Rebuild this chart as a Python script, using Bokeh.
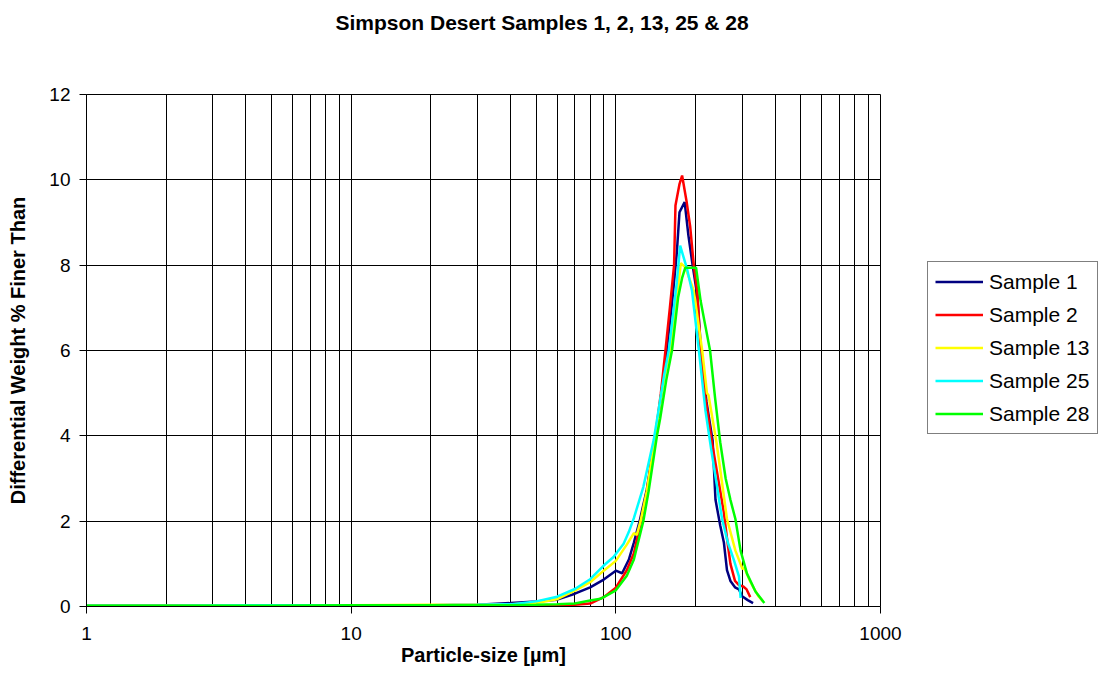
from bokeh.plotting import figure
from bokeh.layouts import row
from bokeh.models import (FixedTicker, PrintfTickFormatter, Legend, LegendItem, Range1d, Title)
from bokeh.embed import file_html
from bokeh.resources import INLINE

# ---- data ----
series_names = ["Sample 1", "Sample 2", "Sample 13", "Sample 25", "Sample 28"]
series_colors = ["#000080", "#FF0000", "#FFFF00", "#00FFFF", "#00FF00"]

s1_size = [1, 2, 5, 10, 20, 30, 40, 50, 60, 70, 80, 90, 100, 105.6, 112, 117, 123, 131, 141, 148,
           155, 163, 170, 174, 182, 188, 195, 203, 210, 220, 232, 238, 248, 256, 263, 271, 282,
           292, 300, 315, 330]
s1_val = [0.02, 0.02, 0.03, 0.03, 0.03, 0.04, 0.08, 0.12, 0.16, 0.30, 0.45, 0.63, 0.84, 0.78, 1.1,
          1.5, 2.0, 2.75, 4.0, 4.9, 5.9, 7.1, 8.3, 9.24, 9.48, 8.7, 8.0, 7.3, 6.0, 4.8, 3.9, 2.5,
          1.9, 1.5, 0.85, 0.6, 0.45, 0.4, 0.24, 0.15, 0.08]

s2_size = [1, 2, 5, 10, 20, 30, 40, 50, 60, 70, 80, 90, 100, 110, 117, 124, 131, 141, 148, 154,
           160, 166, 168, 174, 178, 185, 191, 197, 203, 209, 218, 230, 245, 256, 263, 271, 282,
           292, 303, 312, 322]
s2_val = [0.01, 0.02, 0.02, 0.02, 0.02, 0.02, 0.02, 0.03, 0.03, 0.04, 0.07, 0.22, 0.44, 0.85,
          1.25, 1.95, 2.7, 4.0, 5.0, 6.0, 7.0, 8.0, 9.4, 9.9, 10.1, 9.5, 8.9, 8.0, 7.4, 6.0, 4.9,
          3.9, 2.9, 2.2, 1.6, 1.0, 0.6, 0.5, 0.47, 0.4, 0.22]

s13_size = [1, 2, 5, 10, 20, 30, 40, 50, 60, 70, 80, 90, 100, 110, 117, 120, 124, 131, 141, 148,
            155, 161, 170, 176, 183, 197, 212, 221, 224, 240, 252, 263, 283, 301, 306, 320, 332,
            345, 360]
s13_val = [0.02, 0.02, 0.03, 0.03, 0.04, 0.04, 0.05, 0.08, 0.17, 0.37, 0.57, 0.84, 1.07, 1.45,
           1.72, 1.68, 2.0, 2.7, 4.0, 4.9, 5.6, 6.0, 7.2, 8.05, 7.95, 7.4, 6.0, 5.0, 4.95, 3.85,
           2.9, 2.05, 1.31, 0.88, 0.9, 0.62, 0.43, 0.25, 0.12]

s25_size = [1, 2, 5, 10, 20, 30, 40, 50, 60, 70, 80, 90, 98, 107, 112, 117, 127, 139, 145, 152,
            158.5, 165, 170, 175, 180, 186, 194, 206, 218, 229, 240, 252, 265, 279, 292, 296]
s25_val = [0.02, 0.02, 0.03, 0.03, 0.03, 0.04, 0.05, 0.12, 0.23, 0.41, 0.64, 0.96, 1.16, 1.47,
           1.75, 2.07, 2.8, 3.9, 4.6, 5.4, 6.0, 6.9, 7.6, 8.46, 8.2, 7.9, 7.4, 6.0, 4.6, 3.7, 2.9,
           2.05, 1.5, 1.1, 0.7, 0.2]

s28_size = [1, 2, 5, 10, 20, 30, 40, 50, 60, 70, 80, 87.5, 90, 100, 110, 117, 127, 133, 143, 147,
            155, 163, 172, 178, 183, 192, 201, 209, 216, 227, 237, 248, 260, 271, 283, 296, 313,
            337, 364]
s28_val = [0.02, 0.02, 0.02, 0.03, 0.03, 0.03, 0.03, 0.04, 0.05, 0.07, 0.14, 0.18, 0.22, 0.38,
           0.72, 1.1, 2.0, 2.7, 4.0, 4.4, 5.3, 6.0, 7.25, 7.7, 7.94, 7.94, 7.94, 7.17, 6.7, 6.0,
           4.9, 3.85, 3.0, 2.5, 2.05, 1.31, 0.77, 0.35, 0.08]

x_tick_values = [1, 10, 100, 1000]
x_grid_values = [1, 2, 3, 4, 5, 6, 7, 8, 9, 10, 20, 30, 40, 50, 60, 70, 80, 90,
                 100, 200, 300, 400, 500, 600, 700, 800, 900, 1000]
y_tick_values = [0, 2, 4, 6, 8, 10, 12]

title_text = "Simpson Desert Samples 1, 2, 13, 25 & 28"
x_label = "Particle-size [\u00b5m]"
y_label = "Differential Weight % Finer Than"

FONT = "Liberation Sans"

p = figure(width=927, height=689, x_axis_type="log",
           x_range=Range1d(1, 1000), y_range=Range1d(0, 12),
           output_backend="svg", toolbar_location=None,
           min_border_left=86, min_border_right=47, min_border_top=94, min_border_bottom=83)

p.background_fill_color = "white"
p.border_fill_color = "white"
p.outline_line_color = "black"
p.outline_line_width = 1

# spacer between the title and the plot area (keeps the title near the top edge)
spacer = Title(text=" ", text_font=FONT, text_font_size="21px", standoff=34)
p.add_layout(spacer, "above")

# title
p.title.text = title_text
p.title.align = "left"
p.title.offset = 249
p.title.standoff = 0
p.title.vertical_align = "top"
p.title.text_font = FONT
p.title.text_font_size = "21px"
p.title.text_font_style = "bold"
p.title.text_color = "black"

# axes
p.xaxis.ticker = FixedTicker(ticks=x_tick_values, minor_ticks=[])
p.xaxis.formatter = PrintfTickFormatter(format="%d")
p.yaxis.ticker = FixedTicker(ticks=y_tick_values, minor_ticks=[])
for ax in (p.xaxis[0], p.yaxis[0]):
    ax.major_label_text_font = FONT
    ax.major_label_text_font_size = "19px"
    ax.major_label_text_color = "black"
    ax.axis_label_text_font = FONT
    ax.axis_label_text_font_size = "20px"
    ax.axis_label_text_font_style = "bold"
    ax.axis_label_text_color = "black"
    ax.axis_line_color = "black"
    ax.major_tick_line_color = "black"
    ax.major_tick_out = 7
    ax.major_tick_in = 0
    ax.minor_tick_line_color = None
p.xaxis.major_label_standoff = 13
p.yaxis.major_label_standoff = 9
p.xaxis.axis_label = x_label
p.yaxis.axis_label = y_label
p.xaxis.axis_label_standoff = 1
p.yaxis.axis_label_standoff = 17

# grid
p.xgrid[0].ticker = FixedTicker(ticks=x_grid_values, minor_ticks=[])
p.xgrid.grid_line_color = "black"
p.xgrid.grid_line_width = 1
p.ygrid[0].ticker = FixedTicker(ticks=y_tick_values, minor_ticks=[])
p.ygrid.grid_line_color = "black"
p.ygrid.grid_line_width = 1

sizes = [s1_size, s2_size, s13_size, s25_size, s28_size]
vals = [s1_val, s2_val, s13_val, s25_val, s28_val]
for name, col, xs, ys in zip(series_names, series_colors, sizes, vals):
    p.line(xs, ys, line_color=col, line_width=2.5)

# legend panel (separate narrow figure to the right of the plot);
# its ranges keep the series out of view so that only the legend shows
lg = figure(width=173, height=689, output_backend="svg", toolbar_location=None,
            min_border_left=0, min_border_right=0, min_border_top=0, min_border_bottom=0,
            x_range=Range1d(2000, 3000), y_range=Range1d(-2, -1))
lg.axis.visible = False
lg.grid.visible = False
lg.outline_line_color = None
lg.background_fill_color = "white"
lg.border_fill_color = "white"
items = []
for name, col, xs, ys in zip(series_names, series_colors, sizes, vals):
    r = lg.line(xs, ys, line_color=col, line_width=2.5)
    items.append(LegendItem(label=name, renderers=[r]))

legend = Legend(items=items, location=(0, 172))
legend.label_text_font = FONT
legend.label_text_font_size = "21px"
legend.label_text_color = "black"
legend.border_line_color = "black"
legend.border_line_width = 1
legend.background_fill_color = "white"
legend.background_fill_alpha = 1
legend.padding = 7
legend.spacing = 8
legend.glyph_width = 48
legend.glyph_height = 25
legend.label_height = 25
legend.label_width = 101
legend.label_standoff = 6
legend.margin = 0
lg.add_layout(legend, "center")

layout = row(p, lg)
open("out.html", "w").write(file_html(layout, INLINE))
